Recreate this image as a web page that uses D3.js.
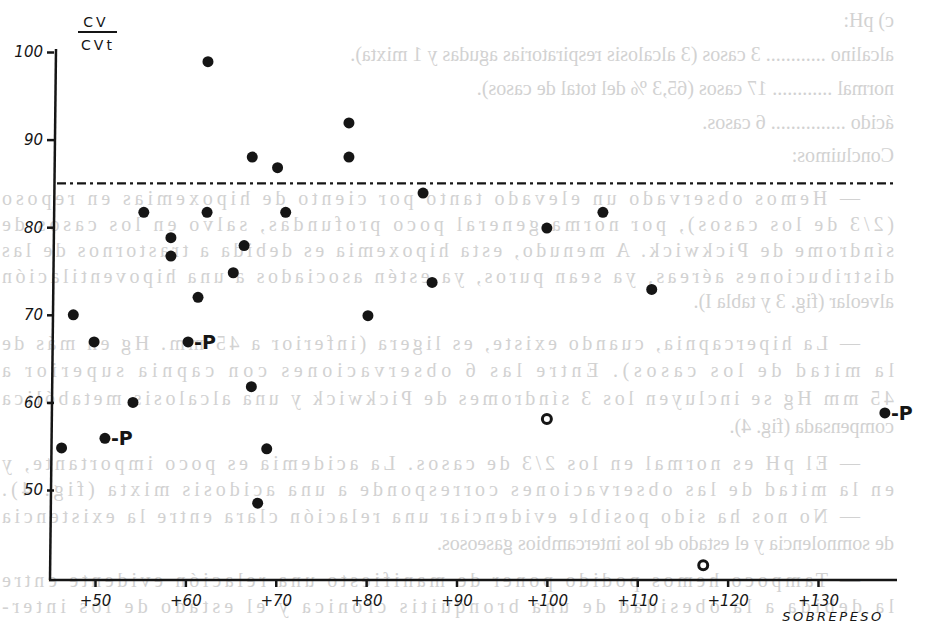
<!DOCTYPE html>
<html>
<head>
<meta charset="utf-8">
<script src="https://cdnjs.cloudflare.com/ajax/libs/d3/7.8.5/d3.min.js"></script>
<style>
  body { margin: 0; background: #fff; }
  svg { display: block; }
</style>
</head>
<body>
<svg id="chart"></svg>
<script>
// data (sobrepeso % vs CV/CVt %)
const sobrepeso = [62.5, 78.1, 78.1, 67.4, 70.2, 86.3, 55.4, 62.4, 71.1, 106.2,
                   100.0, 58.4, 58.4, 66.5, 65.3, 87.3, 61.4, 111.6, 47.6, 80.2,
                   49.9, 60.3, 67.3, 54.2, 100.0, 137.4, 46.3, 51.1, 69.0, 68.0, 117.3]
const cvRatio   = [98.9, 91.9, 88.0, 88.0, 86.8, 83.9, 81.7, 81.7, 81.7, 81.7,
                   79.9, 78.8, 76.7, 77.9, 74.8, 73.7, 72.0, 72.9, 70.0, 69.9,
                   66.9, 66.9, 61.8, 60.0, 58.1, 58.8, 54.8, 55.9, 54.7, 48.5, 41.4]
const marca     = ['', '', '', '', '', '', '', '', '', '',
                   '', '', '', '', '', '', '', '', '', '',
                   '', '-P', '', '', '', '-P', '', '-P', '', '', '']
const hueco     = [0, 0, 0, 0, 0, 0, 0, 0, 0, 0,
                   0, 0, 0, 0, 0, 0, 0, 0, 0, 0,
                   0, 0, 0, 0, 1, 0, 0, 0, 0, 0, 1]
const xTicks = [50, 60, 70, 80, 90, 100, 110, 120, 130]
const yTicks = [50, 60, 70, 80, 90, 100]
const normal = 85

// text of the reverse page showing through (mirrored)
const textoFondo = [
  'c) pH:',
  'alcalino ............  3 casos (3 alcalosis respiratorias agudas y 1 mixta).',
  'normal  ............  17 casos (65,3 % del total de casos).',
  'ácido  ...............  6 casos.',
  'Concluimos:',
  '— Hemos observado un elevado tanto por ciento de hipoxemias en reposo',
  '(2/3 de los casos), por norma general poco profundas, salvo en los casos de',
  'síndrome de Pickwick. A menudo, esta hipoxemia es debida a trastornos de las',
  'distribuciones aéreas, ya sean puros, ya estén asociados a una hipoventilación',
  'alveolar (fig. 3 y tabla I).',
  '— La hipercapnia, cuando existe, es ligera (inferior a 45 mm. Hg en más de',
  'la mitad de los casos). Entre las 6 observaciones con capnia superior a',
  '45 mm Hg se incluyen los 3 síndromes de Pickwick y una alcalosis metabólica',
  'compensada (fig. 4).',
  '— El pH es normal en los 2/3 de casos. La acidemia es poco importante, y',
  'en la mitad de las observaciones corresponde a una acidosis mixta (fig. 4).',
  '— No nos ha sido posible evidenciar una relación clara entre la existencia',
  'de somnolencia y el estado de los intercambios gaseosos.',
  '— Tampoco hemos podido poner de manifiesto una relación evidente entre',
  'la debida a la obesidad de una bronquitis crónica y el estado de los inter-'
]
const lineaY = [27, 61, 95, 129, 162, 205, 231, 257, 283, 308,
                350, 377, 405, 433, 470, 496, 523, 550, 587, 613]
const justificada = [0, 0, 0, 0, 0, 1, 1, 1, 1, 0, 1, 1, 1, 0, 1, 1, 1, 0, 1, 1]

const width = 932
const height = 631

const svg = d3.select('#chart')
    .attr('width', width)
    .attr('height', height)
    .attr('viewBox', `0 0 ${width} ${height}`)

// faint bleed-through text
const fondo = svg.append('g')
    .attr('transform', `translate(${width},0) scale(-1,1)`)
    .style('font-family', '"Liberation Serif", "DejaVu Serif", serif')
    .style('font-size', '20px')
    .style('fill', '#d2d2d2')

fondo.selectAll('text')
    .data(textoFondo)
    .join('text')
        .attr('x', d => d.startsWith('—') ? 72 : 38)
        .attr('y', (d, i) => lineaY[i])
        .attr('textLength', (d, i) => justificada[i] ? (d.startsWith('—') ? 858 : 892) : null)
        .attr('lengthAdjust', 'spacing')
        .text(d => d)

// scales
const x = d3.scaleLinear().domain([50, 130]).range([95, 818])
const y = d3.scaleLinear().domain([50, 100]).range([490, 52])

const axisX = 54
const axisY = 580
const ink = '#151515'

// y axis
const gy = svg.append('g')
    .attr('transform', `translate(${axisX},0)`)
    .call(d3.axisLeft(y).tickValues(yTicks).tickSize(7).tickPadding(4))
gy.select('.domain').remove()
gy.append('line')
    .attr('x1', 2).attr('x2', -4)
    .attr('y1', y(100) - 3).attr('y2', axisY)

// x axis
const gx = svg.append('g')
    .attr('transform', `translate(0,${axisY})`)
    .call(d3.axisBottom(x).tickValues(xTicks).tickSize(7).tickPadding(8).tickFormat(d => '+' + d))
gx.select('.domain').remove()
gx.append('line')
    .attr('x1', axisX - 5).attr('x2', 897)

svg.selectAll('.tick line, g > line')
    .attr('stroke', ink)
    .attr('stroke-width', 2.5)
svg.selectAll('.tick text')
    .style('font-family', '"DejaVu Sans", sans-serif')
    .style('font-style', 'italic')
    .style('font-size', '15px')
    .style('fill', ink)

// axis titles
const titulo = svg.append('g')
    .style('font-family', '"DejaVu Sans", sans-serif')
    .style('font-size', '14px')
    .style('fill', ink)
titulo.append('text').attr('x', 96).attr('y', 27)
    .attr('text-anchor', 'middle').style('letter-spacing', '3px').text('CV')
titulo.append('line')
    .attr('x1', 78).attr('x2', 117).attr('y1', 32).attr('y2', 32)
    .attr('stroke', ink).attr('stroke-width', 2)
titulo.append('text').attr('x', 98).attr('y', 50)
    .attr('text-anchor', 'middle').style('letter-spacing', '3px').text('CVt')
titulo.append('text').attr('x', 833).attr('y', 621)
    .attr('text-anchor', 'middle')
    .style('font-style', 'italic').style('font-size', '13px')
    .style('letter-spacing', '2.5px').text('SOBREPESO')

// normal limit, dash-dot
svg.append('line')
    .attr('x1', axisX + 3).attr('x2', 897)
    .attr('y1', y(normal)).attr('y2', y(normal))
    .attr('stroke', ink)
    .attr('stroke-width', 2.2)
    .attr('stroke-dasharray', '9,4,3,4')

// points
svg.selectAll('circle.pt')
    .data(sobrepeso)
    .join('circle')
        .attr('class', 'pt')
        .attr('cx', d => x(d))
        .attr('cy', (d, i) => y(cvRatio[i]))
        .attr('r', (d, i) => hueco[i] ? 4.5 : 5.5)
        .attr('fill', (d, i) => hueco[i] ? '#fff' : ink)
        .attr('stroke', ink)
        .attr('stroke-width', (d, i) => hueco[i] ? 3 : 0)

// -P annotations
svg.selectAll('text.p')
    .data(sobrepeso)
    .join('text')
        .attr('class', 'p')
        .attr('x', d => x(d) + 6)
        .attr('y', (d, i) => y(cvRatio[i]))
        .attr('dy', '0.36em')
        .style('font-family', '"DejaVu Sans", sans-serif')
        .style('font-weight', 'bold')
        .style('font-size', '19px')
        .style('fill', ink)
        .text((d, i) => marca[i])
</script>
</body>
</html>
